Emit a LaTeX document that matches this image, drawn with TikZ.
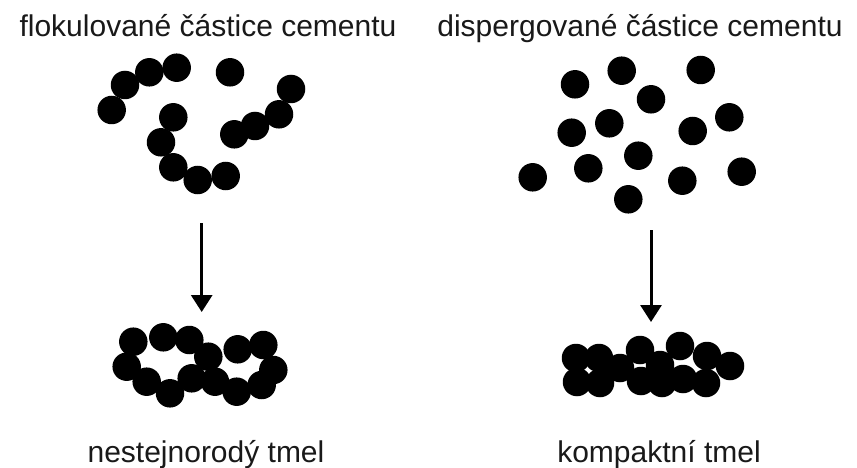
\documentclass[tikz,border=0pt]{standalone}
\usepackage{fontspec}
\setmainfont{Liberation Sans}
\usetikzlibrary{arrows.meta}
\begin{document}
\begin{tikzpicture}[x=1pt,y=-1pt,
  dot/.style={circle,fill=black,inner sep=0pt,minimum size=28.5pt},
  lbl/.style={anchor=base,inner sep=0pt,font=\fontsize{30}{36}\selectfont,text=black!90},
  arr/.style={line width=3pt,-{Triangle[length=17pt,width=21pt]}}]
\useasboundingbox[fill=white] (0,0) rectangle (857,468);
% labels
\node[lbl] (t1) at (208,37) {flokulované částice cementu};
\node[lbl] (t2) at (640,37) {dispergované částice cementu};
\node[lbl] (t3) at (206,462) {nestejnorodý tmel};
\node[lbl] (t4) at (659,462) {kompaktní tmel};
% flocculated particles
\foreach \x/\y [count=\i] in {111.7/110,125/85,149.3/72.3,176.7/67.7,230/72.3,291/89,279/114.3,255/126,234.3/134.3,173.3/117.3,161/142.3,173.3/167.3,197.7/180,225.7/176}
  \node[dot] (f\i) at (\x,\y) {};
% dispersed particles
\foreach \x/\y [count=\i] in {575/84.3,621.7/70.7,700.7/70,651/99.3,729.3/117.3,609.3/123.3,571.7/132.7,692.7/131,638.3/155.7,588.3/168.3,532.7/177.3,741.7/171.7,682.3/180.7,628.3/199.3}
  \node[dot] (d\i) at (\x,\y) {};
% non-uniform binder
\foreach \x/\y [count=\i] in {133.3/341.7,163.3/337.3,189.3/340,208.3/356.7,237.7/349.3,263.3/345,126.7/366.7,146.7/381.7,170/393.3,191.7/378.3,215/381.7,236.7/391.7,261.7/385,273.3/370}
  \node[dot] (n\i) at (\x,\y) {};
% compact binder
\foreach \x/\y [count=\i] in {576/358,577/382,599/358,600/383,620/368,640/350,641/381,660/365,662/383,680/346,683/379,707/356,706/383,730/366}
  \node[dot] (k\i) at (\x,\y) {};
% arrows
\coordinate (a1s) at (201.7,223);
\coordinate (a1e) at (201.7,312);
\coordinate (a2s) at (651,230);
\coordinate (a2e) at (651,322);
\draw[arr] (a1s) -- (a1e);
\draw[arr] (a2s) -- (a2e);
\end{tikzpicture}
\end{document}
